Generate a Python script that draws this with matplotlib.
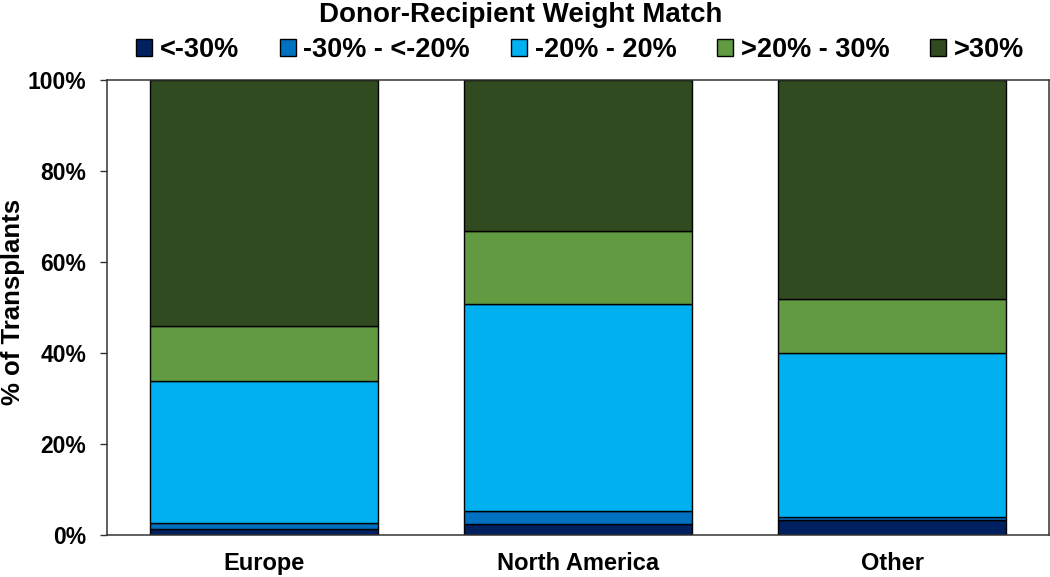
import numpy as np
import matplotlib.pyplot as plt
from matplotlib.ticker import PercentFormatter

regions = ['Europe', 'North America', 'Other']
labels = ['<-30%', '-30% - <-20%', '-20% - 20%', '>20% - 30%', '>30%']
lt_m30 = [1.3, 2.4, 3.4]
m30_m20 = [1.3, 2.9, 0.6]
m20_20 = [31.2, 45.5, 36.0]
p20_30 = [12.2, 16.0, 11.9]
gt_30 = [54.0, 33.2, 48.1]
colors = ['#002060', '#0070C0', '#00B0F0', '#629A41', '#304B20']

plt.rcParams['font.family'] = ['Liberation Sans', 'DejaVu Sans']
plt.rcParams['font.weight'] = 'bold'

fig = plt.figure(figsize=(10.5, 5.77), dpi=100)
ax = fig.add_axes([107 / 1050, 42 / 577, 942 / 1050, 455 / 577])

x = np.arange(len(regions))
bottom = np.zeros(len(regions))
for vals, lab, c in zip([lt_m30, m30_m20, m20_20, p20_30, gt_30], labels, colors):
    ax.bar(x, vals, width=0.723, bottom=bottom, color=c, edgecolor='black', linewidth=1, label=lab)
    bottom += np.array(vals)

ax.set_xlim(-0.5, 2.5)
ax.set_ylim(0, 100)
ax.set_yticks(np.arange(0, 101, 20))
ax.yaxis.set_major_formatter(PercentFormatter(decimals=0))
ax.set_xticks(x)
ax.set_xticklabels(regions)
ax.tick_params(axis='x', length=0, pad=12, labelsize=17)
ax.tick_params(axis='y', direction='out', length=5, width=1, pad=10, labelsize=16.5, color='#333333')
for s in ax.spines.values():
    s.set_color('#333333')
    s.set_linewidth(1.1)
ax.set_ylabel('% of Transplants', fontsize=18.5, fontweight='bold')
ax.yaxis.set_label_coords(-0.087, 0.512)

ax.legend(loc='center', bbox_to_anchor=(580 / 1050, 1 - 50 / 577), bbox_transform=fig.transFigure,
          ncol=5, frameon=False, fontsize=19.5, handlelength=0.6, handleheight=0.55,
          handletextpad=0.28, columnspacing=1.5, borderpad=0)
fig.text(521 / 1050, 1 - 15 / 577, 'Donor-Recipient Weight Match', ha='center', va='center',
         fontsize=20, fontweight='bold')

fig.savefig('out.png', dpi=100)
